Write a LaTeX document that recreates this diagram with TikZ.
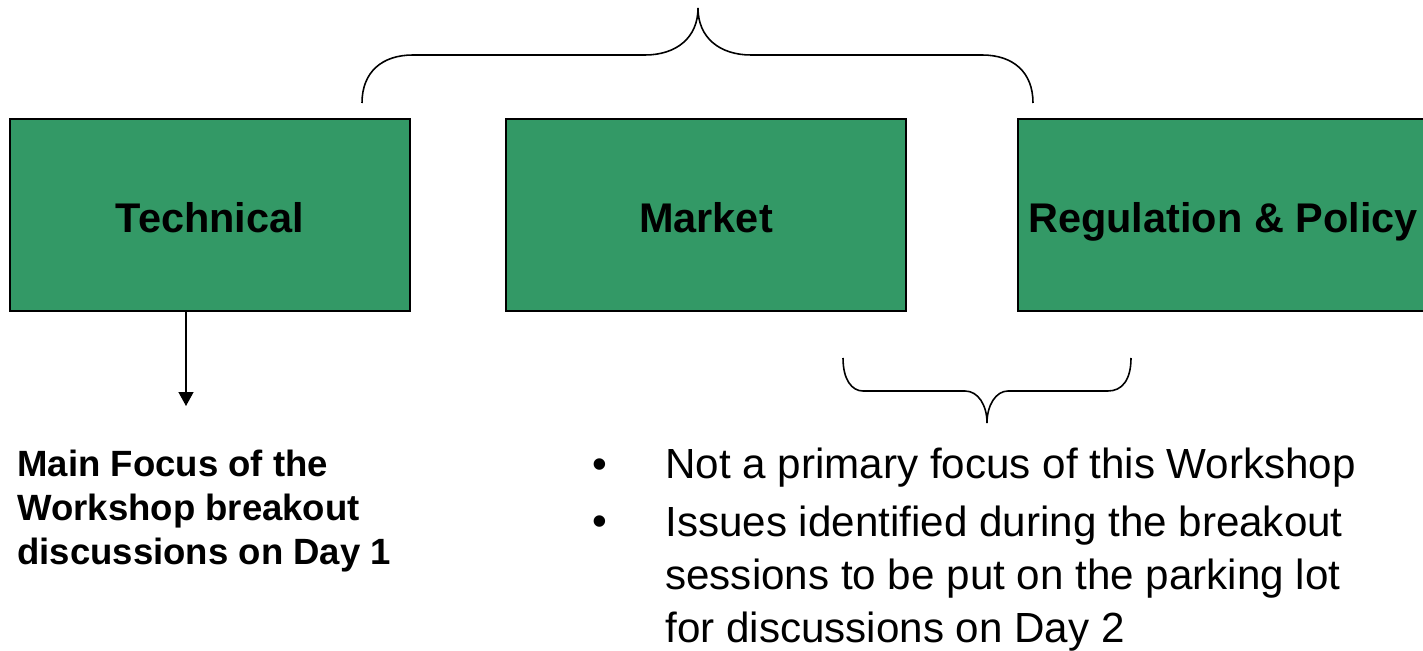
\documentclass[tikz,border=0pt]{standalone}
\usepackage{fontspec}
\setmainfont{Liberation Sans}
\usetikzlibrary{arrows.meta}
\definecolor{boxgreen}{RGB}{51,153,102}

\begin{document}
\begin{tikzpicture}[
  x=0.02cm, y=-0.02cm,
  area/.style={draw, fill=boxgreen, line width=1pt, minimum width=8cm,
  minimum height=3.84cm, text height=24pt, text depth=4.6pt,
  font=\fontsize{23.6}{28}\selectfont\bfseries},
  brace/.style={draw, line width=0.9pt},
  note/.style={align=left, inner sep=0pt, anchor=base west},
  dot/.style={inner sep=0pt, anchor=base, font=\fontsize{24}{30.1}\selectfont}
]
\useasboundingbox (0,0) rectangle (1423,651);
\clip (0,0) rectangle (1423,651);

\node[area] (tech) at (210,215) {Technical};
\node[area] (market) at (706,215) {Market};
\node[area, minimum width=8.2cm] (policy) at (1223,215) {Regulation \& Policy};

% brace over the three areas
\draw[brace] (362,103) .. controls (362,72) and (382,55) .. (413,55) -- (645,55)
  .. controls (676,55) and (698,38) .. (698,8)
  .. controls (698,38) and (720,55) .. (751,55) -- (982,55)
  .. controls (1013,55) and (1033,72) .. (1033,103);

% brace under market and policy
\draw[brace] (843,358) .. controls (843,380) and (852,391) .. (863,391) -- (965,391)
  .. controls (978,391) and (987,405) .. (987,423)
  .. controls (987,405) and (996,391) .. (1008,391) -- (1108,391)
  .. controls (1122,391) and (1131,380) .. (1131,358);

\coordinate (focus) at (186,406);
\draw[line width=0.8pt, -{Triangle[width=0.3cm, length=0.28cm]}] (tech.south -| focus) -- (focus);

% base of a multi-line note is its last line
\node[note, font=\fontsize{20.8}{25}\selectfont\bfseries] (main) at (17,564)
  {Main Focus of the\\Workshop breakout\\discussions on Day 1};

\node[dot] (b1) at (600,479) {\textbullet};
\node[note, font=\fontsize{24}{30.1}\selectfont] (item1) at (665,479)
  {Not a primary focus of this Workshop};
\node[dot] (b2) at (600,536) {\textbullet};
\node[note, font=\fontsize{24}{30.1}\selectfont] (item2) at (665,642)
  {Issues identified during the breakout\\sessions to be put on the parking lot\\for discussions on Day 2};

\end{tikzpicture}
\end{document}
